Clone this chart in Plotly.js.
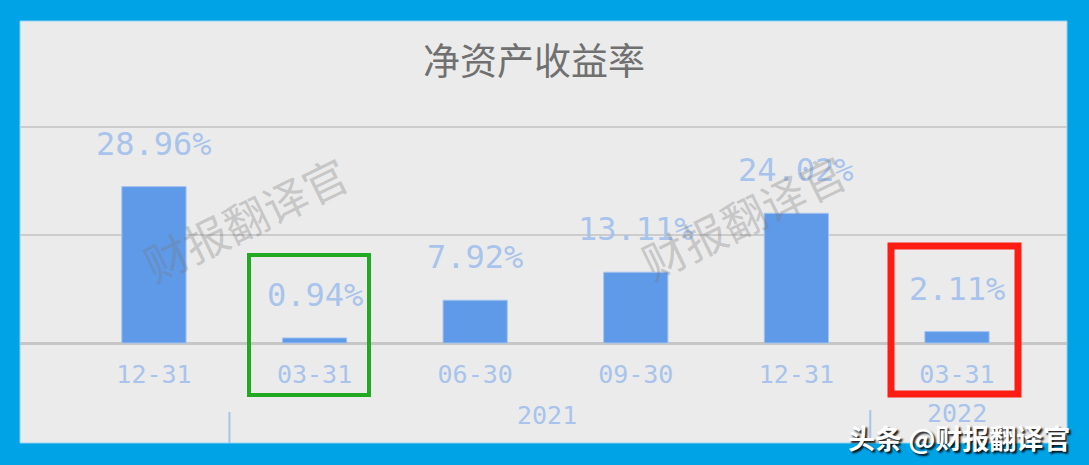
<!DOCTYPE html>
<html>
<head>
<meta charset="utf-8">
<script src="https://cdn.plot.ly/plotly-3.0.1.min.js"></script>
<style>html,body{margin:0;padding:0;background:#00a3e6;}#chart{width:1089px;height:465px;}</style>
</head>
<body>
<div id="chart"></div>
<script>
// ---- data ----
const dateLabels = ['12-31', '03-31', '06-30', '09-30', '12-31', '03-31'];
const roeValues = [28.96, 0.94, 7.92, 13.11, 24.02, 2.11];
const yearLabels = ['2021', '2022'];
const titleText = '净资产收益率';
const watermarkText = '财报翻译官';
const sourceText = '头条 @财报翻译官';

const xIdx = dateLabels.map((_, i) => i);

// ---- geometry helpers (pixel -> paper fractions of plot area) ----
const W = 1089, H = 465;
const M = {l: 20, r: 22, t: 21, b: 120};
const PW = W - M.l - M.r, PH = H - M.t - M.b;
const px = x => (x - M.l) / PW;
const py = y => (H - M.b - y) / PH;

const labelBlue = '#a8c4ec';
const monoFont = 'DejaVu Sans Mono, monospace';
const cjkFont = 'Noto Sans CJK SC, sans-serif';

const trace = {
  type: 'bar',
  x: xIdx,
  y: roeValues,
  width: 0.4,
  marker: {color: '#5e9ae8', line: {color: '#a3c3f0', width: 1}},
  hoverinfo: 'skip'
};

const annotations = [];
// value labels above bars
roeValues.forEach((v, i) => {
  annotations.push({
    x: xIdx[i], y: v, xref: 'x', yref: 'y',
    text: v.toFixed(2) + '%', showarrow: false,
    xanchor: 'center', yanchor: 'middle', yshift: 43,
    font: {family: monoFont, size: 32, color: labelBlue}
  });
});
// year labels
const yearPos = [2.45, 5];
const yearY = [415, 413];
yearLabels.forEach((t, i) => {
  annotations.push({
    x: yearPos[i], y: py(yearY[i]), xref: 'x', yref: 'paper',
    text: t, showarrow: false, xanchor: 'center', yanchor: 'middle',
    font: {family: monoFont, size: 25, color: labelBlue}
  });
});
// watermarks
[[245, 218], [743, 216]].forEach(p => {
  annotations.push({
    x: px(p[0]), y: py(p[1]), xref: 'paper', yref: 'paper',
    text: watermarkText, showarrow: false, textangle: -26,
    xanchor: 'center', yanchor: 'middle',
    font: {family: cjkFont, size: 44, color: 'rgba(120,120,120,0.32)'}
  });
});
// source text
annotations.push({
  x: px(1072), y: py(437), xref: 'paper', yref: 'paper',
  text: sourceText, showarrow: false, xanchor: 'right', yanchor: 'middle',
  font: {family: cjkFont, size: 27, color: '#ffffff', weight: 700, shadow: '2px 2px 2px rgba(0,0,0,0.9)'}
});

const shapes = [
  // inner gray panel
  {type: 'rect', xref: 'paper', yref: 'paper', layer: 'below',
   x0: px(20), x1: px(1067), y0: py(443), y1: py(21),
   fillcolor: '#ebebeb', line: {color: '#8fd3f3', width: 1}},
  // year separators
  {type: 'line', xref: 'x', yref: 'paper', x0: 0.47, x1: 0.47, y0: py(412), y1: py(443),
   line: {color: labelBlue, width: 2}},
  {type: 'line', xref: 'x', yref: 'paper', x0: 4.46, x1: 4.46, y0: py(410), y1: py(443),
   line: {color: labelBlue, width: 2}},
  // green highlight box
  {type: 'rect', xref: 'paper', yref: 'paper',
   x0: px(249), x1: px(369), y0: py(395), y1: py(255),
   line: {color: '#21a922', width: 4}},
  // red highlight box
  {type: 'rect', xref: 'paper', yref: 'paper',
   x0: px(891), x1: px(1018), y0: py(394), y1: py(246),
   line: {color: '#ff1c12', width: 7}}
];

const layout = {
  width: W, height: H,
  margin: M,
  paper_bgcolor: '#00a3e6',
  plot_bgcolor: 'rgba(0,0,0,0)',
  showlegend: false,
  title: {
    text: titleText, xref: 'container', yref: 'container',
    x: 534 / W, y: 1 - 62 / H, xanchor: 'center', yanchor: 'middle',
    font: {family: cjkFont, size: 37, color: '#707070'}
  },
  xaxis: {
    range: [-0.834, 5.685],
    tickmode: 'array', tickvals: xIdx, ticktext: dateLabels,
    ticks: '', showgrid: false, zeroline: false, showline: false,
    ticklabelstandoff: 12,
    tickfont: {family: monoFont, size: 25, color: labelBlue},
    fixedrange: true
  },
  yaxis: {
    range: [-0.37, 59.63],
    dtick: 20, showticklabels: false, ticks: '',
    showgrid: true, gridcolor: '#cccccc', gridwidth: 2,
    zeroline: true, zerolinecolor: '#c6c6c6', zerolinewidth: 3,
    showline: false, fixedrange: true
  },
  annotations: annotations,
  shapes: shapes
};

Plotly.newPlot('chart', [trace], layout, {displayModeBar: false, staticPlot: true});
</script>
</body>
</html>
